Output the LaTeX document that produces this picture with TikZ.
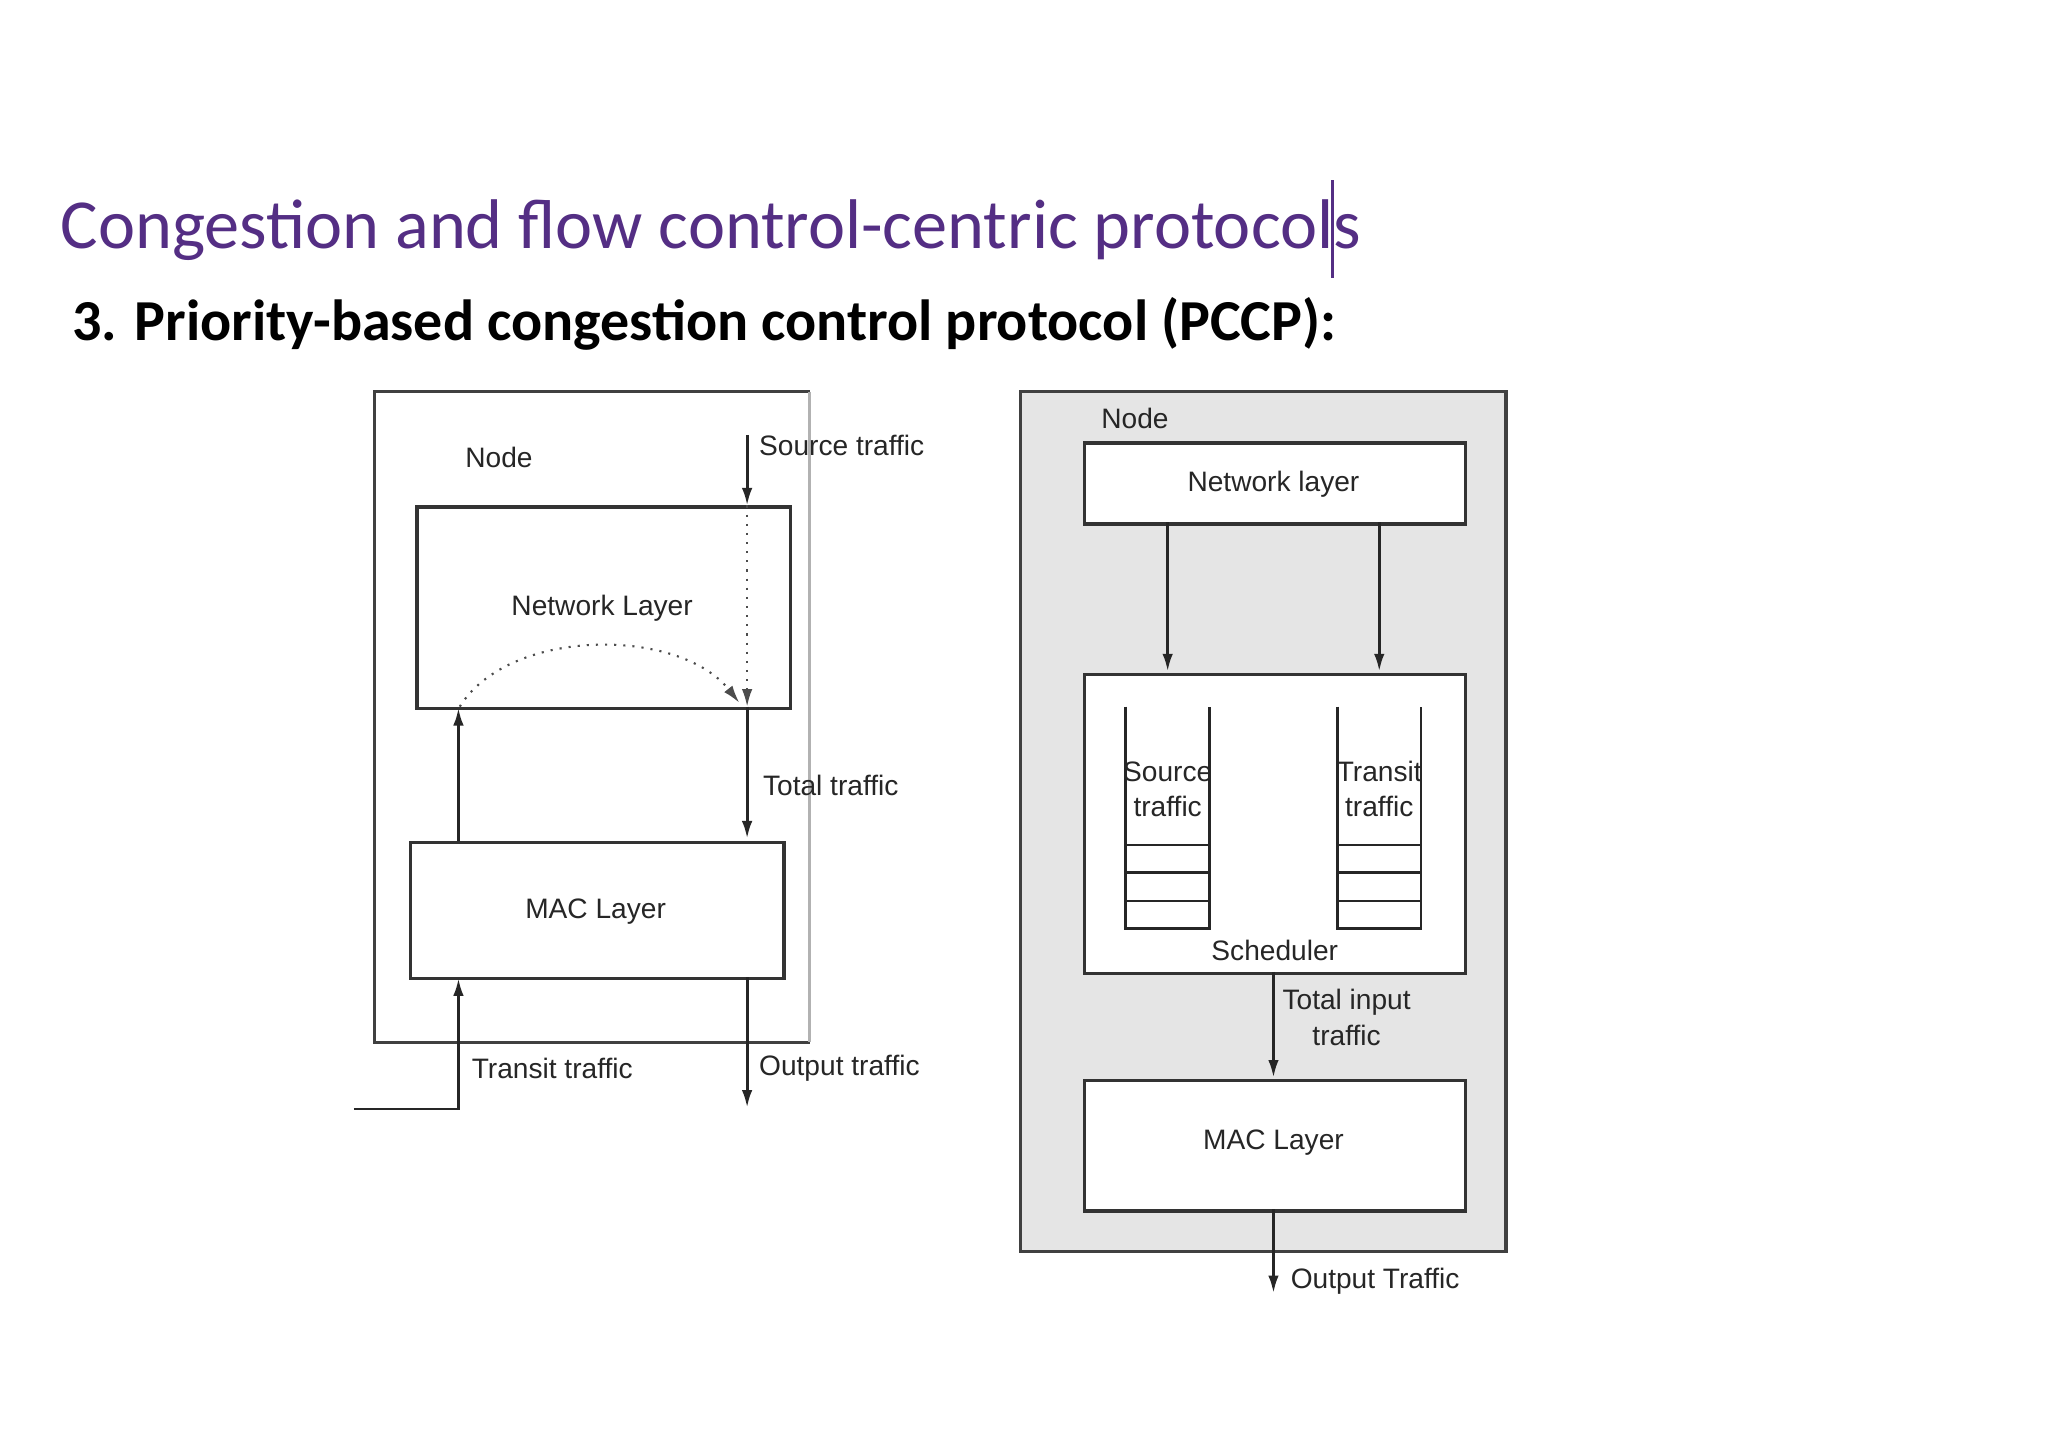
\documentclass[tikz,border=0pt]{standalone}
\usepackage{fontspec}
\setmainfont{Liberation Sans}
\newfontfamily\titlefont{Carlito}
\usetikzlibrary{arrows.meta}
\definecolor{ttl}{RGB}{84,46,132}
\begin{document}
\begin{tikzpicture}[x=0.01306cm,y=-0.01306cm,
  box/.style={draw=black!80,line width=0.9pt,fill=white},
  lab/.style={font=\fontsize{8}{9.5}\selectfont,text=black!85,inner sep=1pt},
  arr/.style={draw=black!85,line width=0.8pt,-{Latex[length=5pt,width=3pt]}},
  ln/.style={draw=black!85,line width=0.8pt},
  dot/.style={draw=black!70,line width=0.6pt,dotted}]
\useasboundingbox (0,0) rectangle (1568,1108);
\fill[white] (0,0) rectangle (1568,1108);
% titles
\node[anchor=west,inner sep=0,text=ttl,font=\titlefont\fontsize{20}{24}\selectfont] (title) at (46,176) {Congestion and flow control-centric protocols};
\draw[ttl,line width=0.8pt] (1020,138) -- (1020,213);
\node[anchor=west,inner sep=0,font=\titlefont\bfseries\fontsize{16.5}{20}\selectfont] (sub) at (55,248) {3. Priority-based congestion control protocol (PCCP):};
% ---- left diagram
\draw[black!75,line width=0.9pt] (620,300) -- (287,300) -- (287,798) -- (620,798);
\draw[black!30,line width=0.9pt] (620,300) -- (620,798);
\node[lab] (lnode) at (382,350) {Node};
\node[box,minimum width=286*0.01306cm,minimum height=154*0.01306cm,anchor=north west] (lnet) at (318,387) {};
\node[lab] at (461,466) {Network Layer};
\node[box,minimum width=286*0.01306cm,minimum height=104*0.01306cm,anchor=north west] (lmac) at (313,644) {};
\node[lab] at (456,698) {MAC Layer};
\coordinate (s0) at (572,333);
\coordinate (s1) at (572,387);
\coordinate (s2) at (572,541);
\coordinate (t0) at (572,642);
\coordinate (o1) at (572,748);
\coordinate (o2) at (572,848);
\coordinate (u0) at (351,644);
\coordinate (u1) at (351,542);
\coordinate (tr0) at (271,849);
\coordinate (tr1) at (351,849);
\coordinate (tr2) at (351,749);
\draw[arr] (s0) -- (s1);
\draw[dot,-{Latex[length=5pt,width=3pt]}] (s1) -- (s2);
\draw[dot,-{Latex[length=5pt,width=3pt]}] (352,541) .. controls (390,480) and (520,480) .. (566,538);
\draw[arr] (s2) -- (t0);
\draw[arr] (u0) -- (u1);
\draw[arr] (o1) -- (o2);
\draw[arr] (tr0) -- (tr1) -- (tr2);
\node[lab,anchor=west] at (578,341) {Source traffic};
\node[lab,anchor=west] at (581,601) {Total traffic};
\node[lab,anchor=west] at (358,818) {Transit traffic};
\node[lab,anchor=west] at (578,818) {Output traffic};
% ---- right diagram
\draw[black!75,line width=0.9pt,fill=black!10] (781,300) rectangle (1153,958);
\node[lab] (rnode) at (869,320) {Node};
\node[box,minimum width=292*0.01306cm,minimum height=62*0.01306cm,anchor=north west] (rnet) at (829,338) {};
\node[lab] at (975,371) {Network layer};
\node[box,minimum width=292*0.01306cm,minimum height=229*0.01306cm,anchor=north west] (sch) at (829,515) {};
\node[lab] at (976,728) {Scheduler};
\node[box,minimum width=292*0.01306cm,minimum height=100*0.01306cm,anchor=north west] (rmac) at (829,826) {};
\node[lab] at (975,875) {MAC Layer};
\draw[arr] (894,400) -- (894,514);
\draw[arr] (1056,400) -- (1056,514);
\foreach \x in {862,1024}{
  \draw[ln] (\x,541) -- (\x,711) -- (\x+64,711) -- (\x+64,541);
  \foreach \y in {647,668,690} \draw[ln,line width=0.6pt] (\x,\y) -- (\x+64,\y);
}
\node[lab,align=center,font=\fontsize{8}{10}\selectfont] at (894,604) {Source\\traffic};
\node[lab,align=center,font=\fontsize{8}{10}\selectfont] at (1056,604) {Transit\\traffic};
\draw[arr] (975,744) -- (975,825);
\node[lab,align=center,font=\fontsize{8}{10}\selectfont] at (1031,779) {Total input\\traffic};
\coordinate (ro) at (975,990);
\draw[arr] (975,926) -- (ro);
\node[lab,anchor=west] at (985,981) {Output Traffic};
\end{tikzpicture}
\end{document}
